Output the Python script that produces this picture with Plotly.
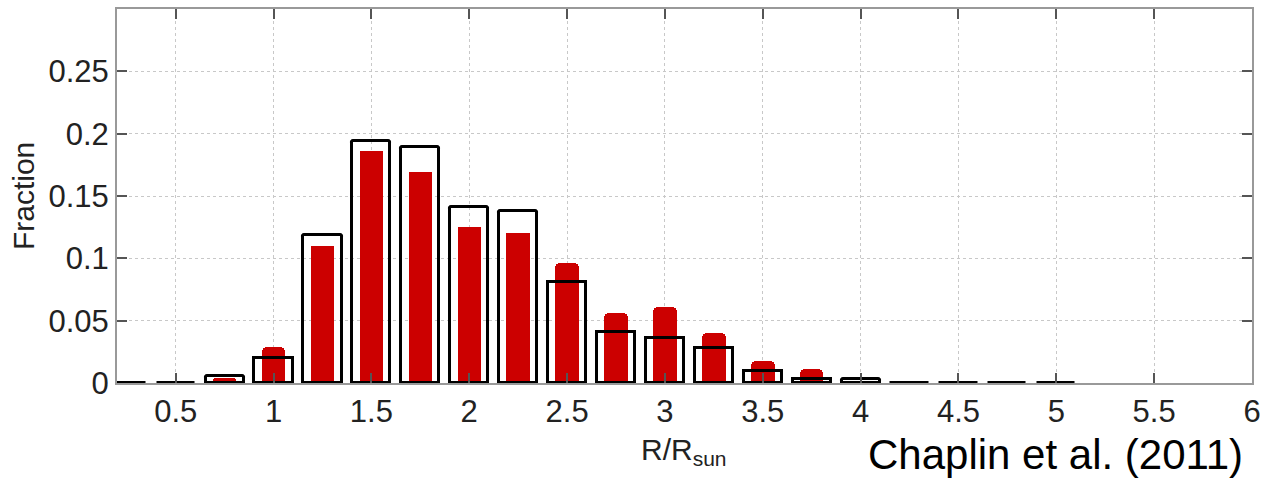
import plotly.graph_objects as go

# Radius bins (R / R_sun), bin centres
radius_bins = [0.25, 0.5, 0.75, 1.0, 1.25, 1.5, 1.75, 2.0, 2.25, 2.5,
               2.75, 3.0, 3.25, 3.5, 3.75, 4.0, 4.25, 4.5, 4.75, 5.0]

# Observed fraction of stars per bin (filled red bars)
observed_fraction = [0.0008, 0.0008, 0.004, 0.029, 0.110, 0.186, 0.169, 0.125, 0.120, 0.096,
                     0.056, 0.061, 0.040, 0.018, 0.011, 0.002, 0.001, 0.001, 0.001, 0.001]

# Predicted fraction of stars per bin (open black bars)
predicted_fraction = [0.0004, 0.0004, 0.006, 0.020, 0.119, 0.194, 0.189, 0.141, 0.138, 0.081,
                      0.041, 0.036, 0.028, 0.010, 0.003, 0.003, 0.0004, 0.0004, 0.0004, 0.0004]

x_ticks = [0.5, 1, 1.5, 2, 2.5, 3, 3.5, 4, 4.5, 5, 5.5, 6]
x_tick_text = ["0.5", "1", "1.5", "2", "2.5", "3", "3.5", "4", "4.5", "5", "5.5", "6"]
y_ticks = [0, 0.05, 0.1, 0.15, 0.2, 0.25]
y_tick_text = ["0", "0.05", "0.1", "0.15", "0.2", "0.25"]

FONT = "Liberation Sans, Arial, Helvetica, sans-serif"
W, H = 1268, 483
L, R, T, B = 117, 15, 7, 100

fig = go.Figure()

fig.add_trace(go.Bar(
    x=radius_bins, y=observed_fraction, width=0.12,
    marker=dict(color="#cc0000", line=dict(width=0), cornerradius=5),
    showlegend=False,
))

fig.add_trace(go.Bar(
    x=radius_bins, y=predicted_fraction, width=0.195,
    marker=dict(color="rgba(0,0,0,0)", line=dict(color="#000000", width=3), cornerradius=2),
    showlegend=False,
))

axis_common = dict(
    showline=True, linecolor="#999999", linewidth=2, mirror="ticks",
    ticks="inside", ticklen=10, tickwidth=1.5, tickcolor="#555555",
    showgrid=True, gridcolor="#c8c8c8", gridwidth=1, griddash="dot",
    zeroline=False,
    tickfont=dict(family=FONT, size=31, color="#222222"),
)

fig.update_xaxes(range=[0.2, 6.0], tickvals=x_ticks, ticktext=x_tick_text, **axis_common)
fig.update_yaxes(range=[0, 0.3], tickvals=y_ticks, ticktext=y_tick_text, **axis_common)

pw = W - L - R
ph = H - T - B

def px_x(px):
    return (px - L) / pw

def px_y(py):
    return (H - B - py) / ph

fig.update_layout(
    width=W, height=H,
    margin=dict(l=L, r=R, t=T, b=B, pad=0),
    paper_bgcolor="white", plot_bgcolor="white",
    barmode="overlay", bargap=0,
    font=dict(family=FONT),
    annotations=[
        dict(text="Fraction", xref="paper", yref="paper",
             x=px_x(23), y=px_y(195), xanchor="center", yanchor="middle",
             textangle=-90, showarrow=False,
             font=dict(family=FONT, size=30, color="#222222")),
        dict(text="R/R<sub>sun</sub>", xref="paper", yref="paper",
             x=px_x(639), y=px_y(452), xanchor="left", yanchor="middle",
             showarrow=False,
             font=dict(family=FONT, size=30, color="#222222")),
        dict(text="Chaplin et al. (2011)", xref="paper", yref="paper",
             x=px_x(1246), y=px_y(455), xanchor="right", yanchor="middle",
             showarrow=False,
             font=dict(family=FONT, size=42, color="#000000")),
    ],
)

fig.write_html("out.html")
